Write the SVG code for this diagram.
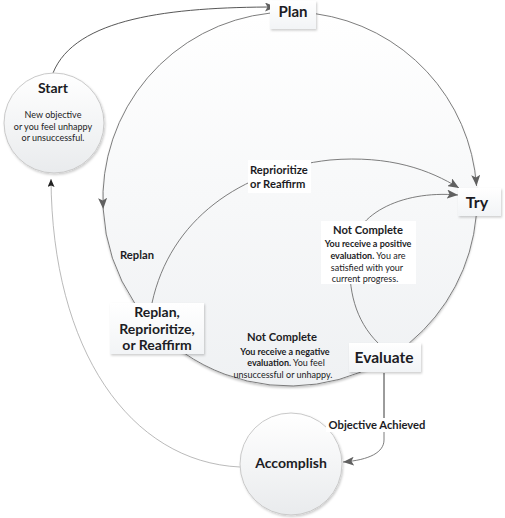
<svg xmlns="http://www.w3.org/2000/svg" width="505" height="518" viewBox="0 0 505 518">
<defs>
<linearGradient id="bigGrad" x1="0" y1="0" x2="0" y2="1">
<stop offset="0" stop-color="#ffffff"/>
<stop offset="1" stop-color="#eff1f3"/>
</linearGradient>
<linearGradient id="nodeGrad" x1="0" y1="0" x2="0" y2="1">
<stop offset="0" stop-color="#ffffff"/>
<stop offset="1" stop-color="#e9ebed"/>
</linearGradient>
<linearGradient id="boxGrad" x1="0" y1="0" x2="0" y2="1">
<stop offset="0" stop-color="#ffffff"/>
<stop offset="1" stop-color="#f2f4f6"/>
</linearGradient>
<filter id="shadow" x="-20%" y="-20%" width="140%" height="140%">
<feDropShadow dx="1" dy="1.5" stdDeviation="1" flood-color="#000" flood-opacity="0.2"/>
</filter>
<filter id="bigShadow" x="-10%" y="-10%" width="120%" height="120%">
<feDropShadow dx="0" dy="2" stdDeviation="1.2" flood-color="#000" flood-opacity="0.22"/>
</filter>
<marker id="arrow" markerUnits="userSpaceOnUse" markerWidth="11" markerHeight="9" refX="11" refY="4.5" orient="auto">
<path d="M0,0 L11,4.5 L0,9 L2.5,4.5 z" fill="#606060"/>
</marker>
<marker id="arrowSmall" markerUnits="userSpaceOnUse" markerWidth="8" markerHeight="7" refX="8" refY="3.5" orient="auto">
<path d="M0,0 L8,3.5 L0,7 L1.5,3.5 z" fill="#222"/>
</marker>
</defs>
<style>
text{font-family:Lato,"Liberation Sans",sans-serif;fill:#1c1c24;text-anchor:middle}
.b{font-weight:bold}
.title{font-weight:bold;font-size:15px}
.small{font-size:9px}
.lbl{font-weight:bold;font-size:11.2px}
.conn{fill:none;stroke:#6e6e6e;stroke-width:0.9}
.box{fill:url(#boxGrad);filter:url(#shadow)}
.circ{fill:url(#nodeGrad);stroke:#c9c9c9;stroke-width:1;filter:url(#shadow)}
</style>
<rect width="505" height="518" fill="#fff"/>

<g id="cycle">
<circle cx="290" cy="199" r="187" fill="url(#bigGrad)" filter="url(#bigShadow)"/>
</g>

<g id="connectors">
<path class="conn" d="M316,13.8 A187,187 0 0 1 476.5,186" marker-end="url(#arrow)"/>
<path class="conn" d="M476.2,216 A187,187 0 0 1 409.3,343"/>
<path class="conn" d="M361,372 A187,187 0 0 1 184,353"/>
<path class="conn" d="M270,13.1 A187,187 0 0 0 103.2,209 A187,187 0 0 0 134.6,303" marker-mid="url(#arrow)"/>
<path class="conn" d="M152,303 C170,220 240,170 330,160 C390,155 430,170 459,188" marker-end="url(#arrow)"/>
<path class="conn" d="M378,343 C355,320 348,290 350,255 C352,215 400,190 458,195" marker-end="url(#arrow)"/>
<path class="conn" style="stroke:#444" d="M53,73 C75,18 170,7 276,7" marker-end="url(#arrow)"/>
<path class="conn" style="stroke:#a8a8a8;stroke-width:0.8" d="M240,467 C130,462 52,350 51,179" marker-end="url(#arrowSmall)"/>
<path class="conn" style="stroke:#222" d="M384,373 L384,425"/>
<path class="conn" d="M384,425 L384,440 C384,452 370,460 343,462" marker-end="url(#arrow)"/>
</g>

<g id="start">
<circle class="circ" cx="54" cy="123" r="50"/>
<text class="b" x="53" y="92.5" font-size="14">Start</text>
<text class="small" x="53" y="118">New objective</text>
<text class="small" x="53" y="129.5">or you feel unhappy</text>
<text class="small" x="53" y="141">or unsuccessful.</text>
</g>

<g id="plan">
<rect class="box" x="270" y="1" width="46" height="28"/>
<text class="title" x="293" y="17">Plan</text>
</g>

<g id="try">
<rect class="box" x="458" y="188" width="43" height="28"/>
<text class="b" x="477" y="207.5" font-size="16">Try</text>
</g>

<g id="evaluate">
<rect class="box" x="349" y="343" width="72" height="29"/>
<text class="b" x="384" y="362.5" font-size="15.5">Evaluate</text>
</g>

<g id="replan">
<rect class="box" x="110" y="303" width="94" height="51"/>
<text class="b" x="157" y="316.5" font-size="14">Replan,</text>
<text class="b" x="157" y="333.5" font-size="14">Reprioritize,</text>
<text class="b" x="157" y="350" font-size="14">or Reaffirm</text>
</g>

<g id="accomplish">
<circle class="circ" cx="291" cy="464" r="51"/>
<text class="b" x="291" y="467.5" font-size="14">Accomplish</text>
</g>

<g id="labels">
<rect x="248" y="160" width="63" height="33" fill="#fff"/>
<text class="lbl" x="250" y="174" style="text-anchor:start">Reprioritize</text>
<text class="lbl" x="250" y="188" style="text-anchor:start">or Reaffirm</text>

<text class="lbl" x="137" y="259">Replan</text>

<rect x="321" y="221" width="95" height="63" fill="#fff"/>
<text class="lbl" x="368" y="234">Not Complete</text>
<text class="small b" x="368" y="247">You receive a positive</text>
<text class="small" x="368" y="258.5"><tspan class="b">evaluation.</tspan> You are</text>
<text class="small" x="367" y="270.5">satisfied with your</text>
<text class="small" x="365" y="282">current progress.</text>

<text class="lbl" x="282" y="341">Not Complete</text>
<text class="small b" x="285" y="355">You receive a negative</text>
<text class="small" x="286" y="366"><tspan class="b">evaluation.</tspan> You feel</text>
<text class="small" x="283" y="377.5">unsuccessful or unhappy.</text>

<rect x="326" y="418" width="102" height="14" fill="#fff"/>
<text class="lbl" x="377" y="429">Objective Achieved</text>
</g>
</svg>
